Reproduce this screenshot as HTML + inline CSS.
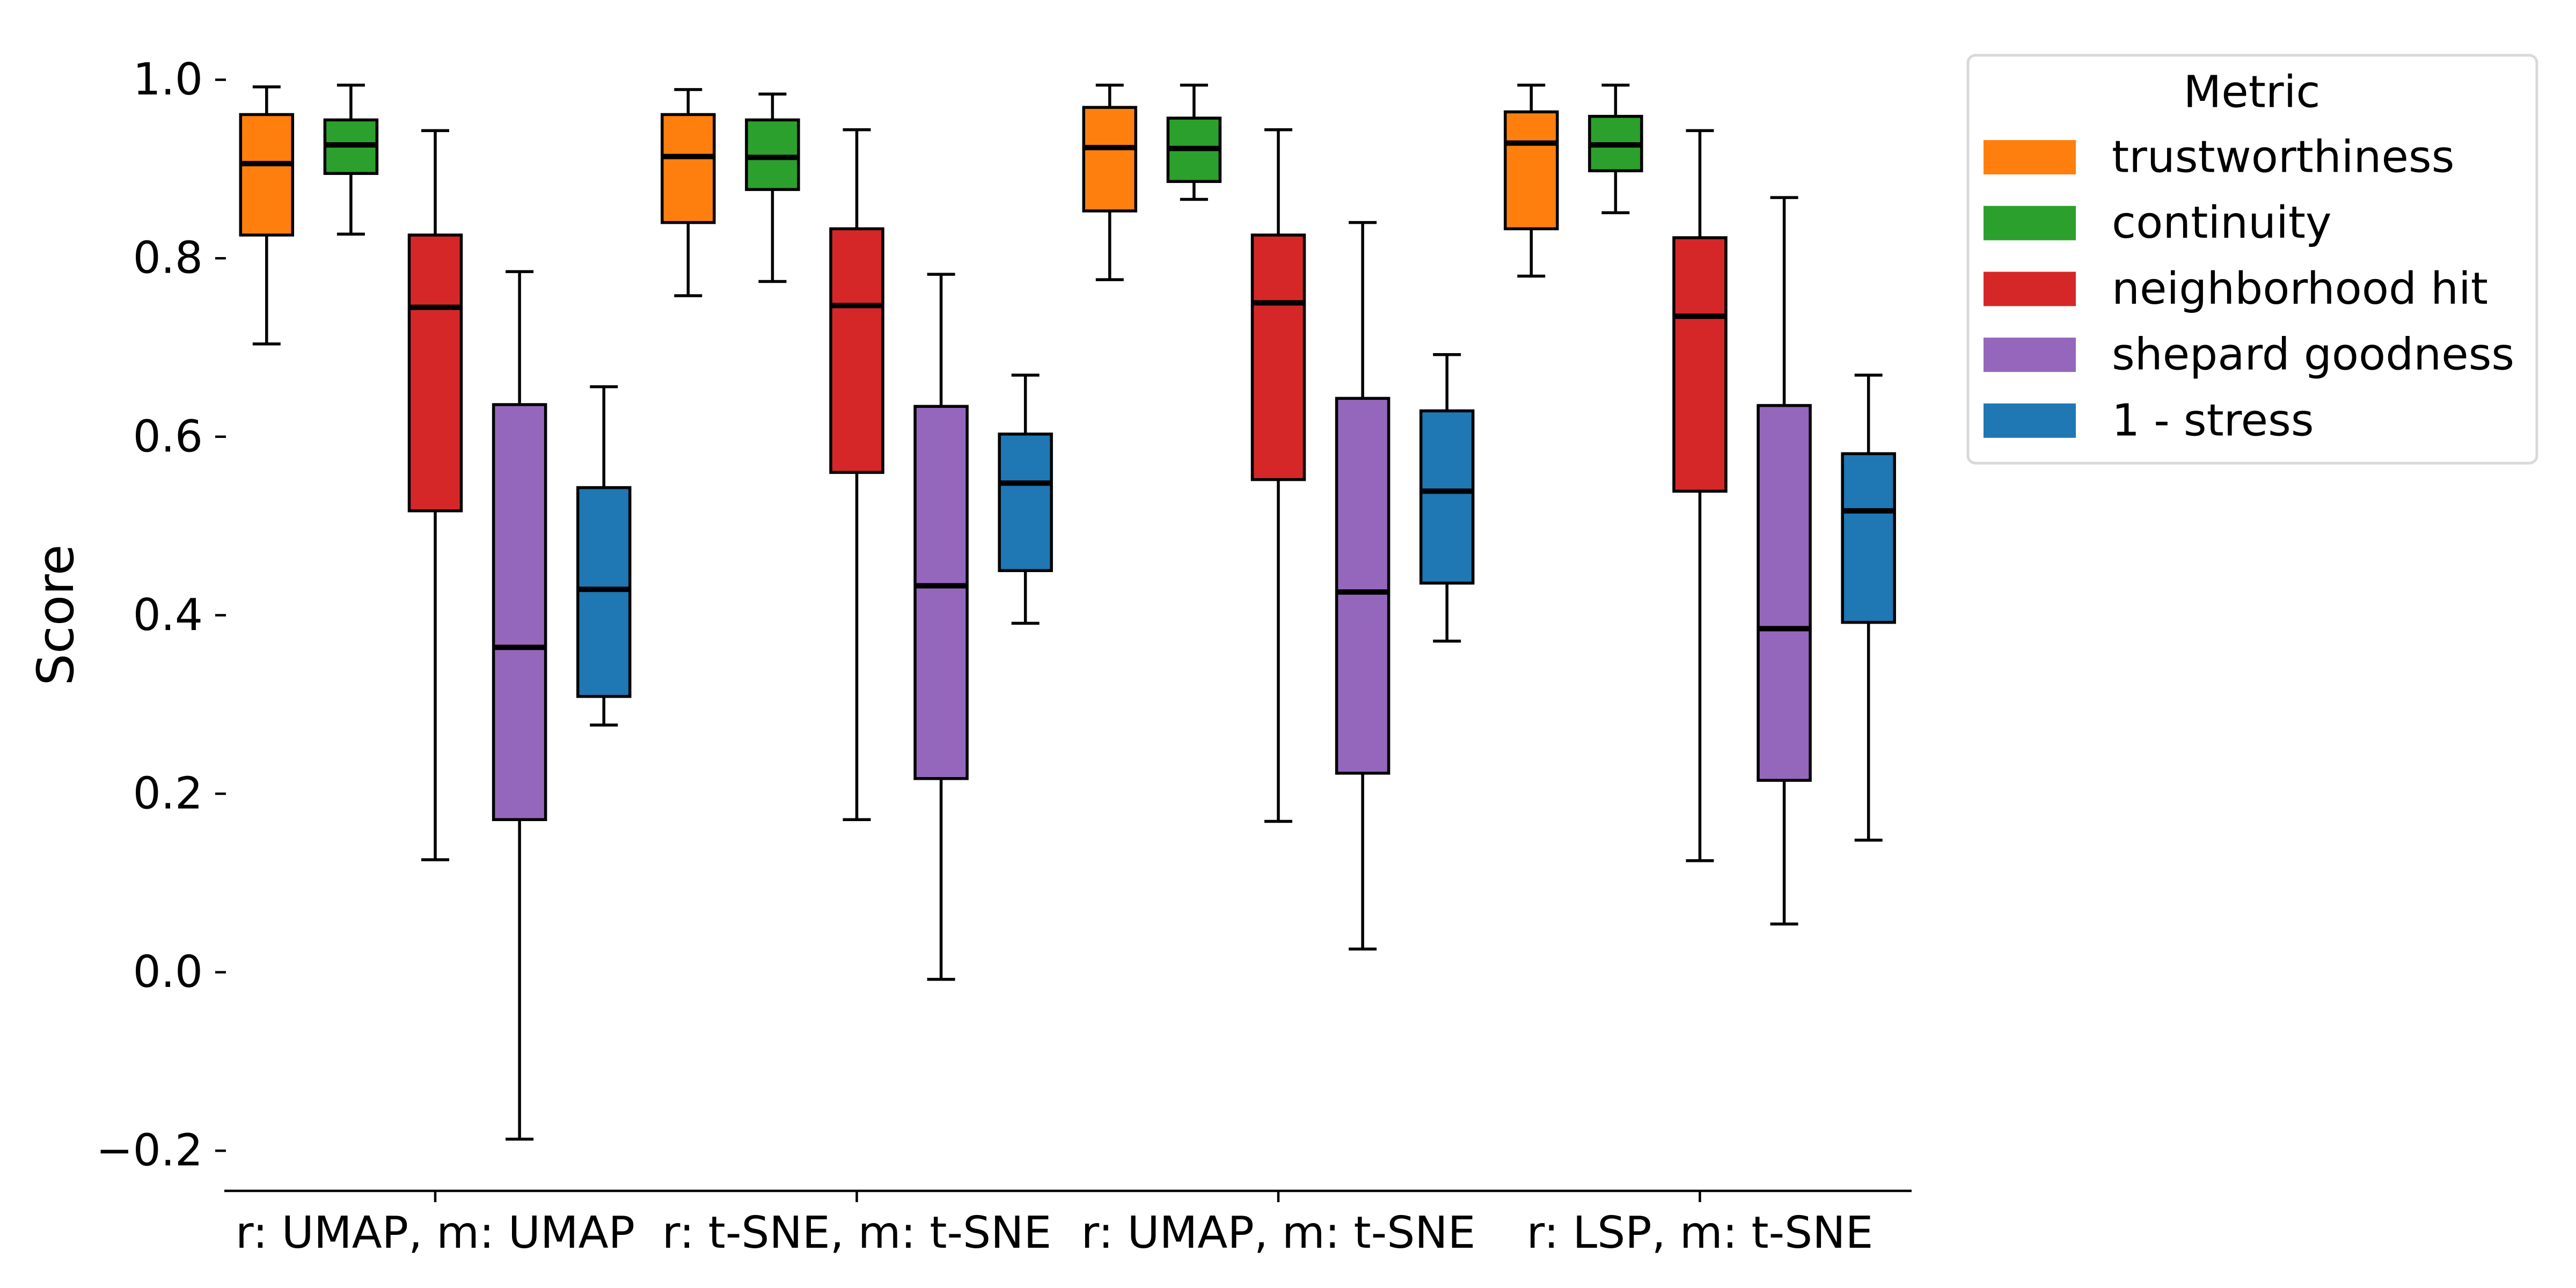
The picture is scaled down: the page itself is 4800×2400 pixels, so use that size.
<!DOCTYPE html>
<html><head><meta charset="utf-8"><style>
html,body{margin:0;padding:0;background:#fff;}
svg{display:block;font-family:"DejaVu Sans","Liberation Sans",sans-serif;}
</style></head><body>
<svg id="chart" width="4800" height="2400" viewBox="0 0 4800 2400" xmlns="http://www.w3.org/2000/svg">
<rect width="4800" height="2400" fill="#fff"/>
<g id="axes"></g>
<g id="boxes"></g>
<g id="legend"></g>
</svg>
<script>
const groups = ["r: UMAP, m: UMAP", "r: t-SNE, m: t-SNE", "r: UMAP, m: t-SNE", "r: LSP, m: t-SNE"];
const metrics = ["trustworthiness", "continuity", "neighborhood hit", "shepard goodness", "1 - stress"];
const colors = ["#ff7f0e", "#2ca02c", "#d62728", "#9467bd", "#1f77b4"];
const yTicks = [-0.2, 0.0, 0.2, 0.4, 0.6, 0.8, 1.0];
// [whiskerHigh, q3, median, q1, whiskerLow] per metric, per group
const trustworthiness = [[0.992,0.961,0.906,0.826,0.704],[0.989,0.961,0.914,0.840,0.758],[0.994,0.969,0.924,0.853,0.776],[0.994,0.964,0.929,0.833,0.780]];
const continuity = [[0.994,0.955,0.927,0.895,0.827],[0.984,0.955,0.913,0.877,0.774],[0.994,0.957,0.923,0.886,0.866],[0.994,0.959,0.927,0.898,0.851]];
const neighborhoodHit = [[0.943,0.826,0.745,0.517,0.126],[0.944,0.833,0.747,0.560,0.171],[0.944,0.826,0.750,0.552,0.169],[0.943,0.823,0.735,0.539,0.125]];
const shepardGoodness = [[0.785,0.636,0.364,0.171,-0.187],[0.782,0.634,0.433,0.217,-0.008],[0.840,0.643,0.426,0.223,0.026],[0.868,0.635,0.385,0.215,0.054]];
const oneMinusStress = [[0.656,0.543,0.429,0.309,0.277],[0.669,0.603,0.548,0.450,0.391],[0.692,0.629,0.539,0.436,0.371],[0.669,0.581,0.517,0.392,0.148]];
const series = [trustworthiness, continuity, neighborhoodHit, shepardGoodness, oneMinusStress];

const NS = "http://www.w3.org/2000/svg";
function yScale(v){ return 1811.6 - 1663 * v; }
function xGroup(i){ return 811 + 785.5 * i; }
function xBox(i,k){ return xGroup(i) + (k - 2) * 157.1; }
function mk(tag, attrs, parent){
  const e = document.createElementNS(NS, tag);
  for (const a in attrs) e.setAttribute(a, attrs[a]);
  parent.appendChild(e);
  return e;
}
const axes = document.getElementById("axes");
const boxes = document.getElementById("boxes");
const legend = document.getElementById("legend");

// x spine
let sp = mk("line", {x1:418, x2:3562, y1:2219, y2:2219, stroke:"#000", "stroke-width":4.5}, axes);



yTicks.forEach(t => {
  const y = yScale(t);
  const tk = mk("line", {x1:401, x2:421, y1:y, y2:y, stroke:"#000", "stroke-width":4.5}, axes);
  
  
  const lb = mk("text", {x:378, y:y, "text-anchor":"end", "dominant-baseline":"central", "font-size":82, fill:"#000"}, axes);
  lb.textContent = (t < 0 ? "\u2212" : "") + Math.abs(t).toFixed(1);
  
  
});

groups.forEach((g, i) => {
  const x = xGroup(i);
  const tk = mk("line", {x1:x, x2:x, y1:2219, y2:2240, stroke:"#000", "stroke-width":4.5}, axes);
  
  
  const lb = mk("text", {x:x, y:2325, "text-anchor":"middle", "font-size":82, fill:"#000"}, axes);
  lb.textContent = g;
  
  
});

const yl = mk("text", {x:0, y:0, transform:"translate(136,1146) rotate(-90)", "text-anchor":"middle", "font-size":94, fill:"#000"}, axes);
yl.textContent = "Score";



const BW = 97, CAP = 26;
series.forEach((s, k) => {
  s.forEach((d, i) => {
    const cx = xBox(i, k);
    const g = mk("g", {}, boxes);
    
    
    const [hi, q3, med, q1, lo] = d;
    mk("line", {x1:cx, x2:cx, y1:yScale(hi), y2:yScale(q3), stroke:"#000", "stroke-width":5.5}, g);
    mk("line", {x1:cx, x2:cx, y1:yScale(q1), y2:yScale(lo), stroke:"#000", "stroke-width":5.5}, g);
    mk("line", {x1:cx-CAP, x2:cx+CAP, y1:yScale(hi), y2:yScale(hi), stroke:"#000", "stroke-width":5.5}, g);
    mk("line", {x1:cx-CAP, x2:cx+CAP, y1:yScale(lo), y2:yScale(lo), stroke:"#000", "stroke-width":5.5}, g);
    mk("rect", {x:cx-BW/2, y:yScale(q3), width:BW, height:yScale(q1)-yScale(q3), fill:colors[k], stroke:"#000", "stroke-width":5.5}, g);
    mk("line", {x1:cx-BW/2, x2:cx+BW/2, y1:yScale(med), y2:yScale(med), stroke:"#000", "stroke-width":10}, g);
  });
});

// legend
const frame = mk("rect", {x:3667, y:103, width:1060, height:760, rx:14, fill:"#fff", stroke:"#d9d9d9", "stroke-width":5}, legend);


const lt = mk("text", {x:4196, y:172, "text-anchor":"middle", "dominant-baseline":"central", "font-size":82, fill:"#000"}, legend);
lt.textContent = "Metric";


metrics.forEach((m, k) => {
  const cy = 293 + k * 122.7;
  const g = mk("g", {}, legend);
  
  
  mk("rect", {x:3696, y:cy-32, width:172, height:64, fill:colors[k]}, g);
  const t = mk("text", {x:3935, y:cy, "dominant-baseline":"central", "font-size":82, fill:"#000"}, g);
  t.textContent = m;
});
</script>
</body></html>
